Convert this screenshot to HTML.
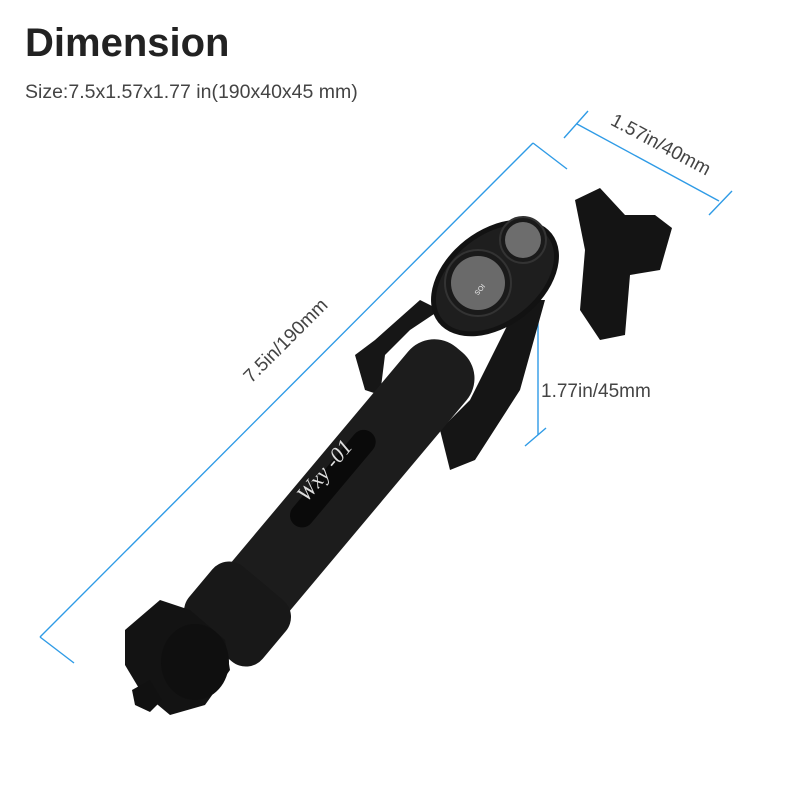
<!DOCTYPE html>
<html><head><meta charset="utf-8"><style>
html,body{margin:0;padding:0;background:#fff;width:800px;height:800px;overflow:hidden}
svg{display:block}
</style></head><body>
<svg width="800" height="800" viewBox="0 0 800 800" xmlns="http://www.w3.org/2000/svg">
<text x="25" y="56" font-family="Liberation Sans, sans-serif" font-weight="bold" font-size="40" fill="#222">Dimension</text>
<text x="25" y="98" font-family="Liberation Sans, sans-serif" font-size="19.5" fill="#444">Size:7.5x1.57x1.77 in(190x40x45 mm)</text>

<g stroke="#2f9be6" stroke-width="1.4" fill="none">
<line x1="40" y1="637" x2="533" y2="143"/>
<line x1="533" y1="143" x2="567" y2="169"/>
<line x1="40" y1="637" x2="74" y2="663"/>
<line x1="577" y1="124" x2="719" y2="201"/>
<line x1="564" y1="138" x2="588" y2="111"/>
<line x1="709" y1="215" x2="732" y2="191"/>
<line x1="538" y1="293" x2="538" y2="435"/>
<line x1="523" y1="305" x2="546" y2="286"/>
<line x1="525" y1="446" x2="546" y2="428"/>
</g>
<text transform="translate(290,345) rotate(-45)" text-anchor="middle" font-family="Liberation Sans, sans-serif" font-size="19" fill="#444">7.5in/190mm</text>
<text transform="translate(658,150) rotate(28)" text-anchor="middle" font-family="Liberation Sans, sans-serif" font-size="19" fill="#444">1.57in/40mm</text>
<text x="541" y="397" font-family="Liberation Sans, sans-serif" font-size="19" fill="#444">1.77in/45mm</text>

<g fill="#1b1b1b">
<!-- rear clamp -->
<path d="M575 200 L600 188 L625 215 L655 215 L672 228 L660 270 L630 275 L625 335 L600 340 L580 310 L585 250 Z" fill="#141414"/>
<path d="M440 430 L470 400 L520 300 L545 300 L520 390 L475 460 L450 470 Z" fill="#151515"/>
<path d="M355 355 L375 340 L420 300 L440 310 L410 330 L385 355 L380 395 L365 390 Z" fill="#161616"/>
<!-- main stick -->
<g transform="translate(350,480) rotate(-50)">
<rect x="-210" y="-38" width="380" height="76" rx="34" fill="#1c1c1c"/>
<rect x="-70" y="-26" width="120" height="24" rx="12" fill="#0a0a0a"/>
<rect x="-215" y="-48" width="80" height="96" rx="22" fill="#181818"/>
</g>
<!-- bottom legs -->
<path d="M125 630 L160 600 L190 610 L225 640 L230 670 L205 705 L170 715 L140 690 L125 665 Z" fill="#131313"/>
<ellipse cx="195" cy="662" rx="34" ry="38" fill="#0f0f0f"/>
<path d="M132 690 L150 680 L162 700 L150 712 L135 705 Z" fill="#111"/>
<!-- remote -->
<g transform="translate(495,278) rotate(-38)">
<ellipse cx="0" cy="0" rx="72" ry="48" fill="#121212"/>
<ellipse cx="0" cy="0" rx="67" ry="43" fill="#1e1e1e"/>
</g>
<circle cx="478" cy="283" r="33" fill="#1a1a1a" stroke="#333" stroke-width="2"/>
<circle cx="478" cy="283" r="27" fill="#6a6a6a"/>
<circle cx="523" cy="240" r="23" fill="#1a1a1a" stroke="#333" stroke-width="2"/>
<circle cx="523" cy="240" r="18" fill="#6d6d6d"/>
<text transform="translate(478,288) rotate(130)" text-anchor="middle" font-family="Liberation Sans, sans-serif" font-size="7" fill="#eee">IOS</text>
</g>
<text transform="translate(330,475) rotate(-50)" text-anchor="middle" font-family="Liberation Serif, serif" font-style="italic" font-size="22" fill="#ddd">Wxy -01</text>
</svg>
</body></html>
